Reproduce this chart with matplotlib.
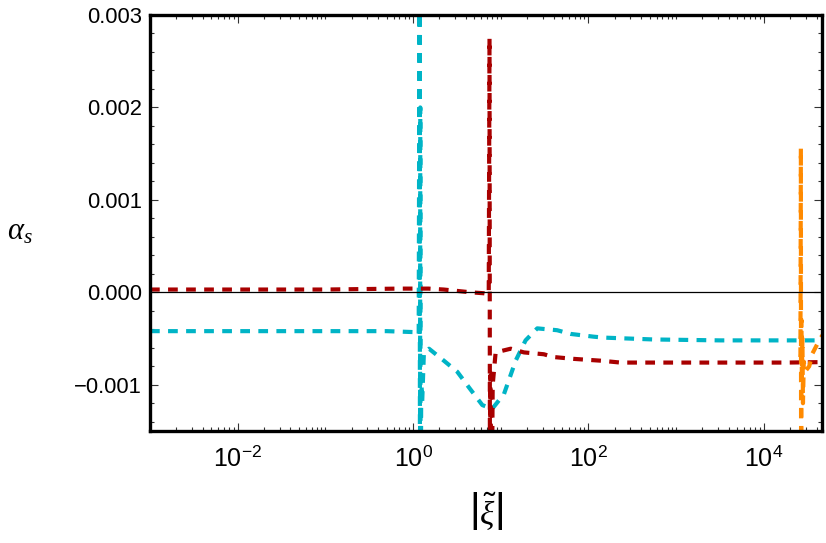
import numpy as np
import matplotlib
matplotlib.use("Agg")
import matplotlib.pyplot as plt
from matplotlib.ticker import MultipleLocator, FixedLocator, NullFormatter

# --- 字体设置 (Mathematica 风格) ---
plt.rcParams['font.family'] = ['Liberation Sans', 'DejaVu Sans']
plt.rcParams['mathtext.fontset'] = 'custom'
plt.rcParams['mathtext.rm'] = 'Liberation Sans'
plt.rcParams['mathtext.sf'] = 'Liberation Sans'
plt.rcParams['mathtext.it'] = 'Liberation Serif:italic'
plt.rcParams['lines.scale_dashes'] = False

# --- 数据 (从图中读取, 单位 1e-3) ---
cyan_x = [1e-3, 0.01, 0.1, 0.5, 1.0, 1.1, 1.16, 1.19, 1.2, 1.21, 1.22, 1.24, 1.27,
          1.33, 1.52, 2.25, 3.2, 4.35, 6.17, 8.0, 10.9, 14.8, 19.2, 26.1, 44,
          62.6, 115, 150, 551, 3190, 18400, 46000]
cyan_y = [-0.42, -0.42, -0.42, -0.42, -0.43, -0.44, -0.46, 4.0, -3.0, 2.0, -3.0, -0.9, -1.2,
          -0.65, -0.61, -0.74, -0.86, -1.03, -1.22, -1.26, -1.10, -0.74, -0.52, -0.39, -0.41,
          -0.45, -0.48, -0.49, -0.51, -0.52, -0.52, -0.52]

red_x = [1e-3, 0.1, 0.7, 1.5, 2.24, 4.54, 6.38, 7.3, 7.45, 7.55, 7.62, 7.7, 7.8,
         8.1, 8.75, 13, 18.4, 31, 40, 68, 140, 232, 861, 3200, 18400, 46000]
red_y = [0.03, 0.03, 0.04, 0.04, 0.03, 0.0, -0.01, -0.02, 2.75, -3.0, -0.9, -1.3, -3.0,
         -1.0, -0.65, -0.61, -0.65, -0.67, -0.70, -0.72, -0.74, -0.76, -0.76, -0.76, -0.76, -0.755]

orange_x = [2.62e4, 2.65e4, 2.67e4, 2.69e4, 2.72e4, 2.76e4, 2.80e4, 2.86e4, 3.0e4,
            3.3e4, 3.6e4, 4.4e4, 4.8e4]
orange_y = [-0.7, 1.56, -3.0, -0.3, -0.9, -0.5, -1.2, -0.75, -0.85,
            -0.8, -0.66, -0.5, -0.45]

ytick_vals = [-0.001, 0.0, 0.001, 0.002, 0.003]
ytick_labels = ['\u22120.001', '0.000', '0.001', '0.002', '0.003']
xtick_vals = [1e-2, 1e0, 1e2, 1e4]
xtick_labels = [r'$10^{-2}$', r'$10^{0}$', r'$10^{2}$', r'$10^{4}$']

CYAN = '#00b4c6'
RED = '#a80000'
ORANGE = '#ff8a00'

fig = plt.figure(figsize=(8.26, 5.43), dpi=100)
ax = fig.add_axes([0.1816, 0.2063, 0.8134, 0.7661])

lw = 3.0
dash = (0, (7.0, 6.0))
ax.plot(cyan_x, np.array(cyan_y) * 1e-3, color=CYAN, lw=lw, ls=dash)
ax.plot(red_x, np.array(red_y) * 1e-3, color=RED, lw=lw, ls=dash)
ax.plot(orange_x, np.array(orange_y) * 1e-3, color=ORANGE, lw=lw, ls=dash)
ax.axhline(0, color='k', lw=0.9, zorder=3)

ax.set_xscale('log')
ax.set_xlim(1e-3, 4.6e4)
ax.set_ylim(-0.0015, 0.003)

# 刻度
ax.set_xticks(xtick_vals)
ax.set_xticklabels(xtick_labels)
minor_x = [m * 10.0 ** e for e in range(-3, 5) for m in range(1, 10)]
minor_x = [v for v in minor_x if v not in xtick_vals]
ax.xaxis.set_minor_locator(FixedLocator(minor_x))
ax.xaxis.set_minor_formatter(NullFormatter())
ax.set_yticks(ytick_vals)
ax.set_yticklabels(ytick_labels)
ax.yaxis.set_minor_locator(MultipleLocator(0.0002))

ax.tick_params(which='both', direction='in', top=True, right=True, width=0.8, color='#333333')
ax.tick_params(which='major', length=6)
ax.tick_params(which='minor', length=3)
ax.tick_params(axis='y', which='major', labelsize=15.8, pad=6)
ax.tick_params(axis='x', which='major', labelsize=18, pad=11)

for s in ax.spines.values():
    s.set_linewidth(2.4)

ax.set_ylabel(r'$\alpha_s$', fontsize=22, rotation=0, va='center', ha='center')
ax.yaxis.set_label_coords(-0.193, 0.48)
ax.set_xlabel(r'$\left|\tilde{\xi}\right|$', fontsize=24, va='center')
ax.xaxis.set_label_coords(0.5, -0.195)

fig.savefig('out.png', dpi=100)
